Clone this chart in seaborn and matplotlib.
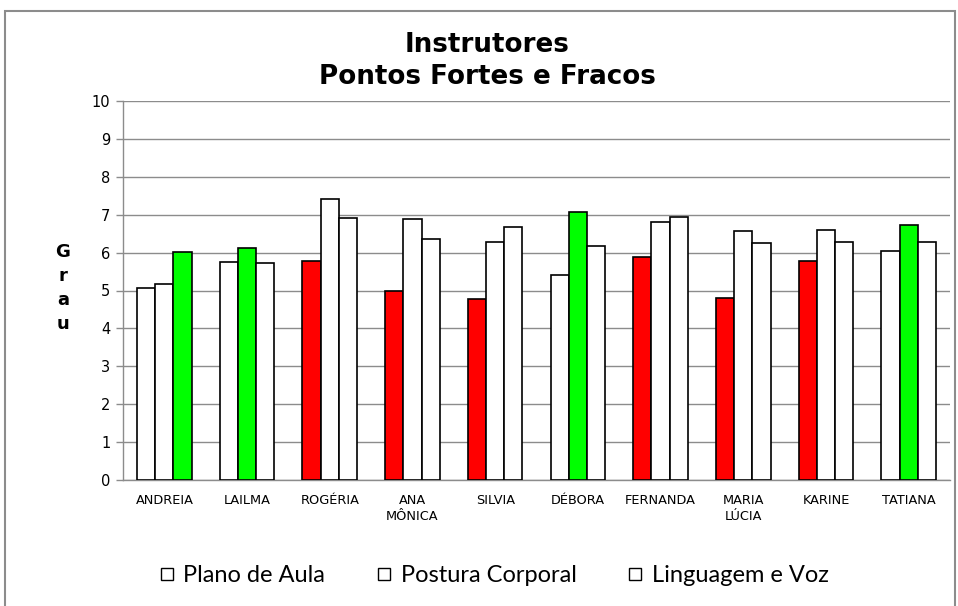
import matplotlib
matplotlib.use("Agg")
import matplotlib.pyplot as plt
import seaborn as sns
import pandas as pd
from matplotlib.lines import Line2D
from matplotlib.patches import Rectangle

categories = ["ANDREIA", "LAILMA", "ROGÉRIA", "ANA\nMÔNICA", "SILVIA", "DÉBORA",
              "FERNANDA", "MARIA\nLÚCIA", "KARINE", "TATIANA"]
series = ["Plano de Aula", "Postura Corporal", "Linguagem e Voz"]
plano = [5.07, 5.75, 5.78, 5.00, 4.77, 5.42, 5.88, 4.80, 5.78, 6.05]
postura = [5.18, 6.12, 7.42, 6.88, 6.27, 7.08, 6.80, 6.56, 6.60, 6.73]
linguagem = [6.02, 5.72, 6.90, 6.35, 6.67, 6.18, 6.95, 6.26, 6.29, 6.28]
# highlight per bar: "r" weakest, "g" strongest, "" none
plano_hl = ["", "", "r", "r", "r", "", "r", "r", "r", ""]
postura_hl = ["", "g", "", "", "", "g", "", "", "", "g"]
linguagem_hl = ["g", "", "", "", "", "", "", "", "", ""]

df = pd.DataFrame({
    "Instrutor": categories * 3,
    "Série": [series[0]] * 10 + [series[1]] * 10 + [series[2]] * 10,
    "Grau": plano + postura + linguagem,
})

sns.set_theme(style="white")
plt.rcParams["font.family"] = ["DejaVu Sans"]
plt.rcParams["text.color"] = "black"
plt.rcParams["xtick.color"] = "black"
plt.rcParams["ytick.color"] = "black"

fig = plt.figure(figsize=(9.58, 6.06), dpi=100)
ax = fig.add_axes([123 / 958, 126 / 606, 827 / 958, 379 / 606])

sns.barplot(data=df, x="Instrutor", y="Grau", hue="Série", order=categories,
            hue_order=series, width=0.66, ax=ax, legend=False,
            edgecolor="black", linewidth=1.2, palette=["white"] * 3)

cmap = {"": "white", "r": "#ff0000", "g": "#00ff00"}
for container, hl in zip(ax.containers, [plano_hl, postura_hl, linguagem_hl]):
    for patch, h in zip(container, hl):
        patch.set_facecolor(cmap[h])
        patch.set_edgecolor("black")
        patch.set_linewidth(1.2)
        patch.set_zorder(3)

ax.set_ylim(0, 10)
ax.set_xlim(-0.5, len(categories) - 0.5)
ax.set_yticks(range(0, 11))
ax.grid(axis="y", color="#8c8c8c", linewidth=1.0, zorder=0)
ax.set_axisbelow(True)
ax.set_xlabel("")
ax.set_ylabel("")
for s in ["top", "right"]:
    ax.spines[s].set_visible(False)
for s in ["left", "bottom"]:
    ax.spines[s].set_color("#8c8c8c")
    ax.spines[s].set_linewidth(1.0)

ax.set_xticks(range(len(categories)))
ax.set_xticklabels(categories, fontsize=9.3, linespacing=1.35, color="black")
ax.tick_params(axis="x", length=0, pad=10)
ax.set_xticks([i - 0.5 for i in range(len(categories) + 1)], minor=True)
ax.tick_params(axis="x", which="minor", length=5, color="#8c8c8c", width=1)
ax.tick_params(axis="y", length=5, color="#8c8c8c", width=1, labelsize=10.5, pad=4,
               direction="out", left=True, labelcolor="black")

fig.text(63 / 958, 1 - 288 / 606, "G\nr\na\nu", ha="center", va="center",
         fontsize=13, fontweight="bold", linespacing=1.45, color="black")

fig.text(487 / 958, 1 - 61 / 606, "Instrutores\nPontos Fortes e Fracos",
         ha="center", va="center", fontsize=18.8, fontweight="bold",
         linespacing=1.25, color="black")

handles = [Line2D([], [], marker="s", linestyle="none", markersize=9,
                  markerfacecolor="white", markeredgecolor="black",
                  markeredgewidth=1.0) for _ in series]
fig.legend(handles, series, loc="center", bbox_to_anchor=(493 / 958, 1 - 576 / 606),
           ncol=3, frameon=False, handletextpad=0.3, columnspacing=2.1,
           prop={"family": "Lato", "size": 17}, handlelength=0.8, labelcolor="black")

fig.patches.append(Rectangle((5 / 958, -0.01), 950 / 958, (606 - 11) / 606 + 0.01,
                             transform=fig.transFigure, fill=False,
                             edgecolor="#8c8c8c", linewidth=1.5))

fig.savefig("out.png", dpi=100)
